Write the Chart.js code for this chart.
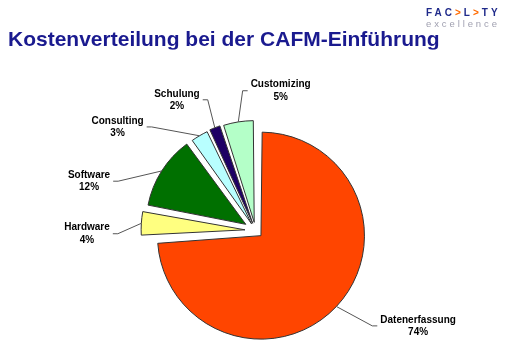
<!DOCTYPE html>
<html lang="de">
<head>
    <meta charset="UTF-8">
    <title>Kostenverteilung bei der CAFM-Einführung</title>
    <script src="https://cdn.jsdelivr.net/npm/chart.js"></script>
    <style>
        body { margin: 0; background: #fff; font-family: "Liberation Sans", Arial, sans-serif; }
        #slide { position: relative; width: 510px; height: 348px; overflow: hidden; }
        #costChart { position: absolute; left: 0; top: 0; }
        .title {
            position: absolute; left: 8px; top: 28px; margin: 0;
            font-size: 21px; line-height: 21px; font-weight: bold; color: #1a1a8f;
            white-space: nowrap; transform: scaleY(0.92); transform-origin: 0 18px;
        }
        .logo { position: absolute; left: 426px; top: 7px; white-space: nowrap; }
        .logo .name { font-size: 10px; line-height: 12px; font-weight: bold; letter-spacing: 3px; color: #1f2a8a; }
        .logo .name span { color: #ff6a00; }
        .logo .sub { font-size: 9.5px; line-height: 9px; letter-spacing: 2.9px; color: #a0a0b0; }
    </style>
</head>
<body>
    <div id="slide">
        <canvas id="costChart" width="510" height="348"></canvas>
        <h1 class="title">Kostenverteilung bei der CAFM-Einführung</h1>
        <div class="logo">
            <div class="name">FAC<span>&gt;</span>L<span>&gt;</span>TY</div>
            <div class="sub">excellence</div>
        </div>
    </div>

    <script>
        // Kostenanteile in Prozent, im Uhrzeigersinn ab 12 Uhr
        const categories = ['Datenerfassung', 'Hardware', 'Software', 'Consulting', 'Schulung', 'Customizing'];
        const shares = [74, 4, 12, 3, 2, 5];

        const sliceColors = ['#ff4500', '#ffff80', '#007000', '#b8ffff', '#1e0064', '#b4ffc8'];
        const sliceOffsets = [30, 42, 46, 31, 31, 33];
        // label placement: [turn from slice middle in degrees, distance from pie centre]
        const labelPlace = [[-12.8, 188.5], [-4.7, 168.5], [-15.9, 173.6], [-22.5, 172.5], [-9.4, 152.5], [19.2, 142]];

        // draws "name / value%" next to each slice with a thin leader line
        const leaderLabels = {
            id: 'leaderLabels',
            afterDatasetsDraw(chart) {
                const ctx = chart.ctx;
                const meta = chart.getDatasetMeta(0);
                ctx.save();
                ctx.font = 'bold 10px "Liberation Sans", Arial, sans-serif';
                ctx.textAlign = 'center';
                ctx.textBaseline = 'middle';
                meta.data.forEach((arc, i) => {
                    const p = arc.getProps(['x', 'y', 'startAngle', 'endAngle', 'outerRadius', 'circumference'], true);
                    const mid = (p.startAngle + p.endAngle) / 2;
                    // an exploded arc is shifted by offset/4 and grows by offset/4 * fix
                    const off = (arc.options.offset || 0) / 4;
                    const fix = 1 - Math.sin(Math.min(Math.PI, p.circumference || 0));
                    const push = off * (1 + fix);
                    const ax = p.x + Math.cos(mid) * (push + p.outerRadius);
                    const ay = p.y + Math.sin(mid) * (push + p.outerRadius);

                    const [turn, dist] = labelPlace[i];
                    const la = mid + turn * Math.PI / 180;
                    const lx = p.x + Math.cos(la) * dist;
                    const ly = p.y + Math.sin(la) * dist;

                    const lines = [categories[i], shares[i] + '%'];
                    const halfW = Math.max(...lines.map(t => ctx.measureText(t).width)) / 2;
                    const side = lx < ax ? 1 : -1;
                    const ex = lx + side * (halfW + 3);

                    ctx.strokeStyle = '#555';
                    ctx.lineWidth = 1;
                    ctx.beginPath();
                    ctx.moveTo(ex, ly);
                    ctx.lineTo(ex + side * 5, ly);
                    ctx.lineTo(ax, ay);
                    ctx.stroke();

                    ctx.fillStyle = '#000';
                    ctx.fillText(lines[0], lx, ly - 6);
                    ctx.fillText(lines[1], lx, ly + 6.5);
                });
                ctx.restore();
            }
        };

        new Chart(document.getElementById('costChart'), {
            type: 'pie',
            data: {
                labels: categories,
                datasets: [{
                    data: shares,
                    backgroundColor: sliceColors,
                    borderColor: '#333',
                    borderWidth: 1,
                    offset: sliceOffsets,
                    hoverOffset: 0
                }]
            },
            options: {
                responsive: false,
                animation: false,
                radius: 96,
                layout: { padding: { top: 116, bottom: 3, left: 1, right: 0 } },
                plugins: {
                    legend: { display: false },
                    tooltip: { enabled: false }
                }
            },
            plugins: [leaderLabels]
        });
    </script>
</body>
</html>
